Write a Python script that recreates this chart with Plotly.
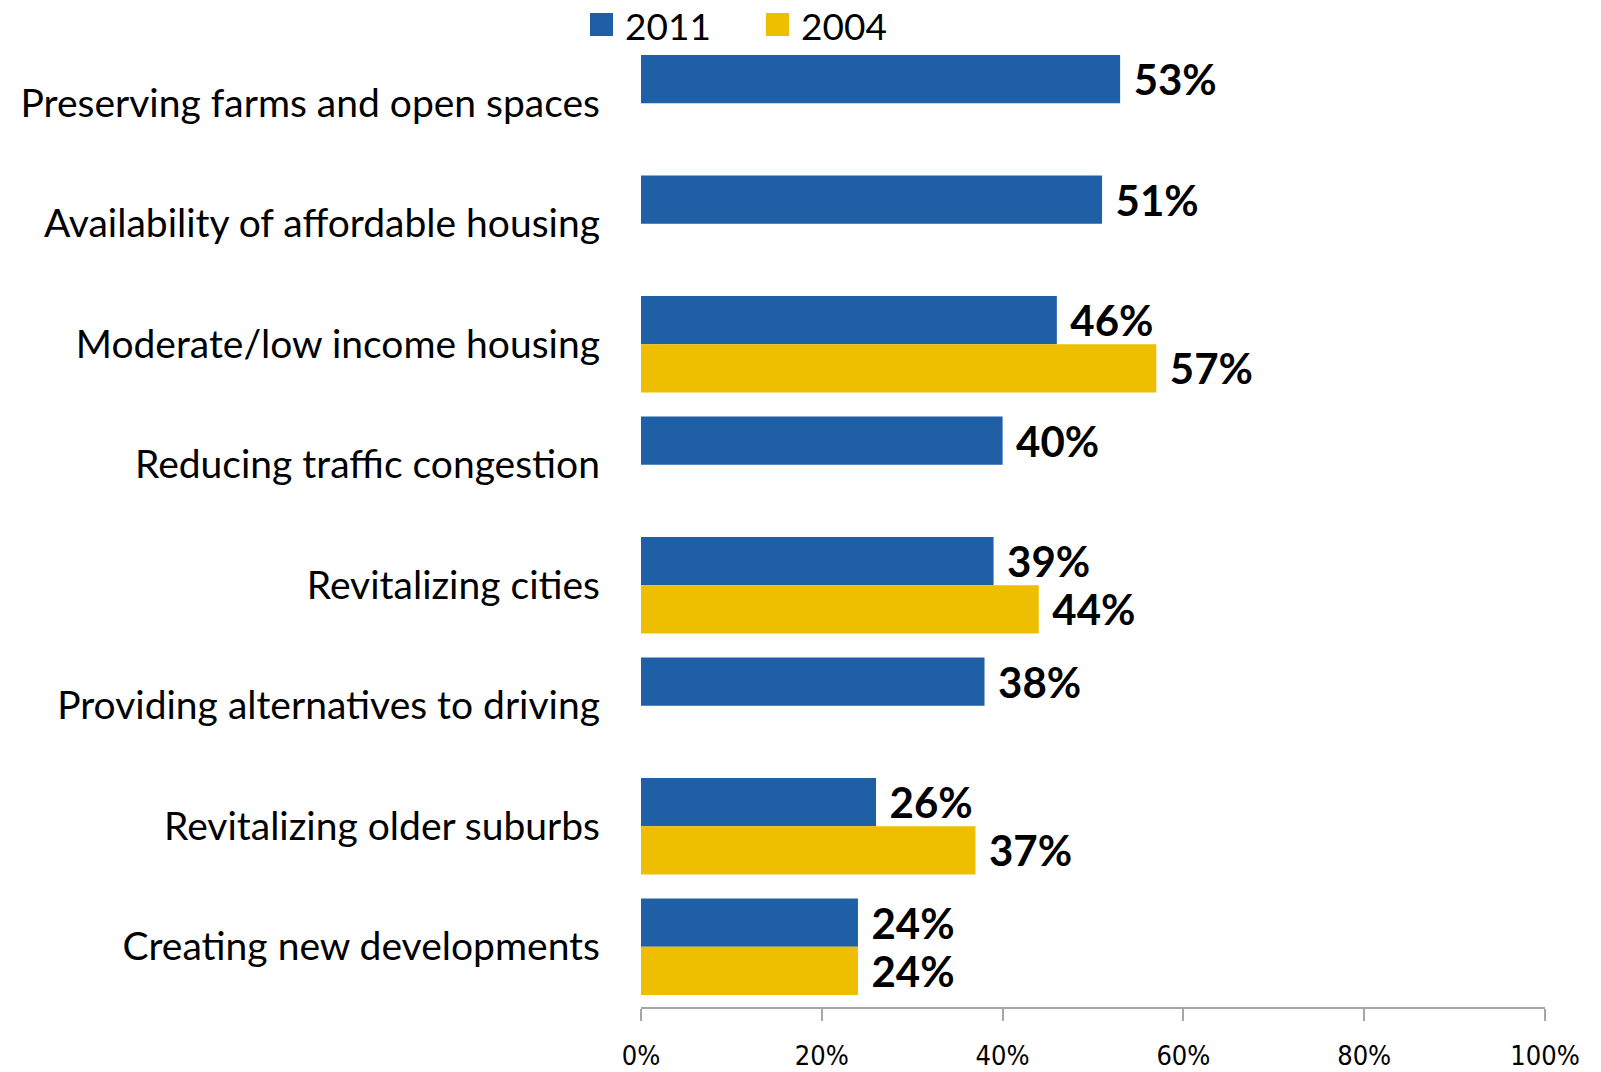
import plotly.graph_objects as go

# Survey priorities, share of respondents
categories = [
    "Preserving farms and open spaces",
    "Availability of affordable housing",
    "Moderate/low income housing",
    "Reducing traffic congestion",
    "Revitalizing cities",
    "Providing alternatives to driving",
    "Revitalizing older suburbs",
    "Creating new developments",
]
values_2011 = [0.53, 0.51, 0.46, 0.40, 0.39, 0.38, 0.26, 0.24]
values_2004 = [None, None, 0.57, None, 0.44, None, 0.37, 0.24]
x_ticks = [0, 0.2, 0.4, 0.6, 0.8, 1.0]
x_tick_labels = ["0%", "20%", "40%", "60%", "80%", "100%"]

BLUE = "#1F5FA6"
GOLD = "#EDBF00"
W, H = 1601, 1072
M_L, M_R, M_T, M_B = 641, 56, 43, 65


def pct_labels(vals):
    return ["\u2009\u2009" + f"{v:.0%}" if v is not None else "" for v in vals]


value_font = dict(family="Lato, sans-serif", size=42, color="black", weight="bold")

fig = go.Figure()
fig.add_trace(go.Bar(
    name="2011", y=categories, x=values_2011, orientation="h",
    marker=dict(color=BLUE, line=dict(width=0)),
    text=pct_labels(values_2011), textposition="outside", textfont=value_font,
    constraintext="none", cliponaxis=False, showlegend=False,
))
fig.add_trace(go.Bar(
    name="2004", y=categories, x=values_2004, orientation="h",
    marker=dict(color=GOLD, line=dict(width=0)),
    text=pct_labels(values_2004), textposition="outside", textfont=value_font,
    constraintext="none", cliponaxis=False, showlegend=False,
))

# Legend drawn as swatches + text above the plot
plot_w = W - M_L - M_R
plot_h = H - M_T - M_B


def px_x(px):
    return (px - M_L) / plot_w


def px_y(py):
    return (H - M_B - py) / plot_h


shapes = []
annotations = []
for name, color, sq_left, txt_left in [("2011", BLUE, 590, 623), ("2004", GOLD, 766, 799)]:
    shapes.append(dict(type="rect", xref="paper", yref="paper",
                       x0=px_x(sq_left), x1=px_x(sq_left + 23),
                       y0=px_y(36), y1=px_y(13),
                       fillcolor=color, line=dict(width=0)))
    annotations.append(dict(xref="paper", yref="paper", x=px_x(txt_left), y=px_y(25),
                            xanchor="left", yanchor="middle", showarrow=False,
                            text=name, font=dict(family="Lato, sans-serif", size=37, color="black")))

fig.update_layout(
    width=W, height=H,
    margin=dict(l=M_L, r=M_R, t=M_T, b=M_B, autoexpand=False),
    paper_bgcolor="white", plot_bgcolor="white",
    barmode="group", bargap=0.2, bargroupgap=0,
    shapes=shapes, annotations=annotations,
    xaxis=dict(
        range=[0, 1], tickvals=x_ticks, ticktext=x_tick_labels,
        showgrid=False, zeroline=False,
        showline=True, linecolor="#A6A6A6", linewidth=2,
        ticks="outside", ticklen=12, tickwidth=2, tickcolor="#A6A6A6",
        tickfont=dict(family="Liberation Sans Narrow, DejaVu Sans Condensed, Lato, sans-serif",
                      size=27, color="black"),
        ticklabelstandoff=12,
    ),
    yaxis=dict(
        categoryorder="array", categoryarray=categories, autorange="reversed",
        showgrid=False, zeroline=False, showline=False, ticks="",
        tickfont=dict(family="Lato, Open Sans, sans-serif", size=39, color="black"),
        ticklabelstandoff=40,
    ),
)

fig.write_html("out.html")
